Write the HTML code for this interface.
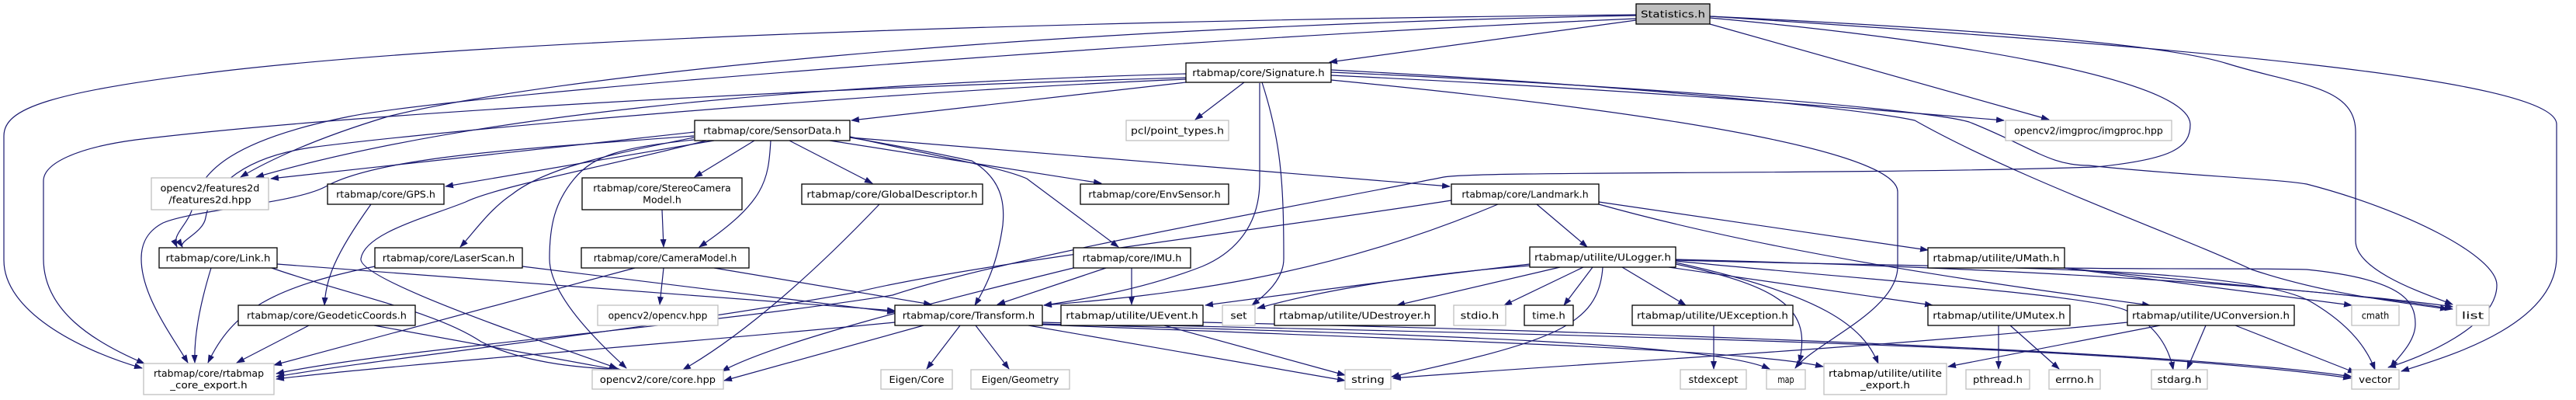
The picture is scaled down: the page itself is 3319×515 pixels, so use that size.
<!DOCTYPE html>
<html><head><meta charset="utf-8"><style>
html,body{margin:0;padding:0;background:#fff;width:3319px;height:515px;overflow:hidden}
svg{display:block}
text{font-family:"DejaVu Sans","Liberation Sans",sans-serif;font-size:12.5px;fill:#000}
</style></head><body>
<svg id="g" width="3319" height="515" viewBox="0 0 3319 515" xmlns="http://www.w3.org/2000/svg">
<defs><marker id="a" markerWidth="11" markerHeight="8" refX="10" refY="4" orient="auto" markerUnits="userSpaceOnUse"><path d="M0,0 L11,4 L0,8z" fill="#191970"/></marker></defs>
<g id="edges" fill="none" stroke="#191970" stroke-width="1.2" marker-end="url(#a)">
<path d="M2108,26 L1713,80"/>
<path d="M2203,31 L2640,154"/>
<path d="M2203,21 C2600,40 2800,60 2870,82 C2960,110 3035,110 3035,170 L3035,310 C3035,350 3130,380 3160,392"/>
<path d="M2203,21 C2800,60 3294,100 3294,160 L3294,330 C3294,420 3150,460 3094,478"/>
<path d="M2203,23 C2500,50 2820,100 2822,160 C2822,190 2800,205 2700,215 C2400,225 1900,220 1860,228 C1700,260 1300,330 1150,380 C900,420 500,450 356,481"/>
<path d="M2108,19 C1500,25 700,45 300,90 C60,118 5,140 5,175 L5,335 C5,400 100,450 183,474"/>
<path d="M2108,20 C1300,35 700,100 500,150 C400,180 340,210 310,228"/>
<path d="M2108,24 C1500,50 600,120 450,150 C300,180 260,220 250,260 C245,290 220,300 228,318"/>
<path d="M1528,106 L1097,155"/>
<path d="M1603,106 L1540,154"/>
<path d="M1626,106 C1650,180 1654,233 1654,333 C1654,360 1630,380 1613,393"/>
<path d="M1623,107 L1623,233 C1623,300 1580,330 1549,343 C1480,370 1400,385 1345,393"/>
<path d="M1528,95 C1000,110 600,150 330,228"/>
<path d="M1528,100 C1000,115 449,147 175,180 C100,190 56,210 56,233 L56,333 C56,400 120,440 186,468"/>
<path d="M1528,102 C1100,120 550,170 400,190 C300,205 270,250 265,280 C262,300 230,310 235,318"/>
<path d="M1715,90 C2100,110 2400,140 2467,155 C2600,230 2800,300 2901,347 C3000,380 3100,390 3154,398"/>
<path d="M1715,93 C2100,110 2480,140 2537,157 C2620,190 2640,213 2691,213 C2800,225 2930,230 2972,237 C3100,270 3217,330 3217,367 C3217,420 3120,460 3077,473"/>
<path d="M1715,97 C2100,115 2400,140 2582,155"/>
<path d="M1715,103 C2200,150 2445,200 2445,247 L2445,343 C2445,400 2340,440 2313,474"/>
<path d="M895,170 L349,230"/>
<path d="M920,181 L574,240"/>
<path d="M894,175 C700,190 491,200 420,240 C380,262 250,270 210,287 C185,300 182,320 182,333 C182,380 220,430 242,467"/>
<path d="M894,180 C800,190 765,200 740,230 C715,260 708,290 708,333 C708,380 770,440 807,474"/>
<path d="M910,181 C800,210 640,240 600,260 C550,280 470,300 465,333 C460,360 700,440 795,474"/>
<path d="M894,177 C780,200 702,217 660,250 C630,270 610,300 593,318"/>
<path d="M972,181 L895,228"/>
<path d="M993,181 C990,233 986,260 901,318"/>
<path d="M1017,181 L1124,236"/>
<path d="M1069,181 L1419,236"/>
<path d="M1095,177 L1868,240"/>
<path d="M1095,176 C1200,200 1290,215 1323,230 L1441,318"/>
<path d="M1095,177 C1200,195 1240,205 1252,207 C1290,230 1295,260 1292,290 C1285,340 1270,370 1256,393"/>
<path d="M478,263 C430,330 420,360 418,393"/>
<path d="M853,270 L855,318"/>
<path d="M1133,263 C1050,350 960,430 880,476"/>
<path d="M1930,263 C1700,360 1500,380 1345,393"/>
<path d="M1870,258 C1600,300 1250,340 1100,377 C800,430 500,460 356,485"/>
<path d="M1980,263 L2045,318"/>
<path d="M2060,260 L2484,322"/>
<path d="M2060,263 C2300,330 2600,370 2770,393"/>
<path d="M272,345 C255,400 250,440 251,467"/>
<path d="M357,340 L1153,400"/>
<path d="M350,345 C450,380 560,400 620,440 C680,470 760,474 800,476"/>
<path d="M673,343 L1153,402"/>
<path d="M483,343 C350,370 300,400 268,467"/>
<path d="M855,345 L850,392"/>
<path d="M920,345 L1200,392"/>
<path d="M818,345 L353,470"/>
<path d="M1425,345 L1285,392"/>
<path d="M1458,345 L1458,392"/>
<path d="M1383,345 C1200,390 1000,440 930,478"/>
<path d="M398,419 L305,467"/>
<path d="M482,419 L800,477"/>
<path d="M1237,419 L1194,475"/>
<path d="M1257,419 L1300,475"/>
<path d="M1325,419 L1733,490"/>
<path d="M1153,415 C900,440 500,470 356,488"/>
<path d="M1190,419 L933,490"/>
<path d="M1343,415 C1900,430 2700,440 3029,487"/>
<path d="M1343,417 C1800,430 2200,440 2280,475"/>
<path d="M1343,418 C1900,440 2250,450 2349,472"/>
<path d="M1500,419 L1733,483"/>
<path d="M1971,340 C1800,360 1650,380 1553,393"/>
<path d="M1971,342 C1800,355 1680,380 1620,397"/>
<path d="M2010,344 L1800,393"/>
<path d="M2040,344 L1938,393"/>
<path d="M2052,344 L2015,393"/>
<path d="M2090,344 L2172,393"/>
<path d="M2065,344 C2060,420 2000,440 1793,485"/>
<path d="M2159,340 C2300,370 2334,400 2318,467"/>
<path d="M2159,338 C2350,380 2400,420 2420,468"/>
<path d="M2150,344 L2490,393"/>
<path d="M2159,336 C2400,360 2700,380 2740,400 C2780,420 2795,450 2800,476"/>
<path d="M2159,335 C2500,345 2900,340 2980,390 C3030,420 3050,450 3060,476"/>
<path d="M2159,334 C2600,345 3000,370 3160,398"/>
<path d="M2660,345 L3030,393"/>
<path d="M2660,345 C2900,370 3100,385 3160,395"/>
<path d="M2659,345 C2800,347 2900,345 2972,347 C3100,360 3112,390 3112,417 C3112,440 3090,460 3080,473"/>
<path d="M2208,419 L2208,475"/>
<path d="M2575,419 L2575,475"/>
<path d="M2590,419 L2653,475"/>
<path d="M2783,419 L2510,472"/>
<path d="M2741,415 C2400,450 2000,470 1795,487"/>
<path d="M2842,419 L2818,475"/>
<path d="M2880,419 L3035,480"/>
<path d="M1550,415 C2000,425 2800,450 3030,485"/>
</g>
<g id="nodes"></g>
</svg>
<script>
var N=[
["Statistics.h",2108,2203,5,31,2],
["rtabmap/core/Signature.h",1528,1715,81,106,1],
["rtabmap/core/SensorData.h",895,1095,155,181,1],
["pcl/point_types.h",1451,1583,155,181,0],
["opencv2/imgproc/imgproc.hpp",2584,2798,155,181,0],
["opencv2/features2d|/features2d.hpp",195,346,229,270,0],
["rtabmap/core/GPS.h",422,572,237,263,1],
["rtabmap/core/StereoCamera|Model.h",750,956,229,270,1],
["rtabmap/core/GlobalDescriptor.h",1033,1266,237,263,1],
["rtabmap/core/EnvSensor.h",1392,1583,237,263,1],
["rtabmap/core/Landmark.h",1870,2060,237,263,1],
["rtabmap/core/Link.h",205,357,319,345,1],
["rtabmap/core/LaserScan.h",483,673,319,345,1],
["rtabmap/core/CameraModel.h",749,965,319,345,1],
["rtabmap/core/IMU.h",1383,1534,319,345,1],
["rtabmap/utilite/ULogger.h",1971,2159,318,344,1],
["rtabmap/utilite/UMath.h",2484,2660,319,345,1],
["rtabmap/core/GeodeticCoords.h",307,535,393,419,1],
["opencv2/opencv.hpp",770,925,393,419,0],
["rtabmap/core/Transform.h",1153,1343,393,419,1],
["rtabmap/utilite/UEvent.h",1367,1550,393,419,1],
["set",1575,1617,393,419,0],
["rtabmap/utilite/UDestroyer.h",1642,1849,393,419,1],
["stdio.h",1873,1940,393,419,0],
["time.h",1964,2027,393,419,1],
["rtabmap/utilite/UException.h",2103,2310,393,419,1],
["rtabmap/utilite/UMutex.h",2484,2667,393,419,1],
["rtabmap/utilite/UConversion.h",2741,2956,393,419,1],
["cmath",3030,3091,393,419,0],
["list",3165,3207,393,419,0],
["rtabmap/core/rtabmap|_core_export.h",185,353,468,508,0],
["opencv2/core/core.hpp",763,932,476,501,0],
["Eigen/Core",1135,1227,476,501,0],
["Eigen/Geometry",1251,1378,476,501,0],
["string",1733,1792,476,501,0],
["stdexcept",2165,2250,476,501,0],
["map",2276,2326,476,501,0],
["rtabmap/utilite/utilite|_export.h",2350,2508,468,508,0],
["pthread.h",2533,2615,476,501,0],
["errno.h",2640,2706,476,501,0],
["stdarg.h",2772,2844,476,501,0],
["vector",3030,3091,476,501,0]
];
var g=document.getElementById('nodes'),ns="http://www.w3.org/2000/svg",h="";
N.forEach(function(n){
 var x1=n[1],x2=n[2],y1=n[3],y2=n[4],t=n[5];
 var fill=t==2?"#bfbfbf":"#fff",st=t==0?"#bfbfbf":"#000";
 h+='<rect x="'+x1+'" y="'+y1+'" width="'+(x2-x1)+'" height="'+(y2-y1)+'" fill="'+fill+'" stroke="'+st+'" stroke-width="1.3"/>';
 var lines=n[0].split('|'),cx=(x1+x2)/2,cy=(y1+y2)/2;
 lines.forEach(function(l,i){
  var y=cy+4.5+(i-(lines.length-1)/2)*15;
  var w=Math.min(l.length*7.1,x2-x1-12);
  h+='<text x="'+cx+'" y="'+y+'" text-anchor="middle" textLength="'+w+'" lengthAdjust="spacingAndGlyphs">'+l+'</text>';
 });
});
g.innerHTML=h;
</script>
</body></html>
